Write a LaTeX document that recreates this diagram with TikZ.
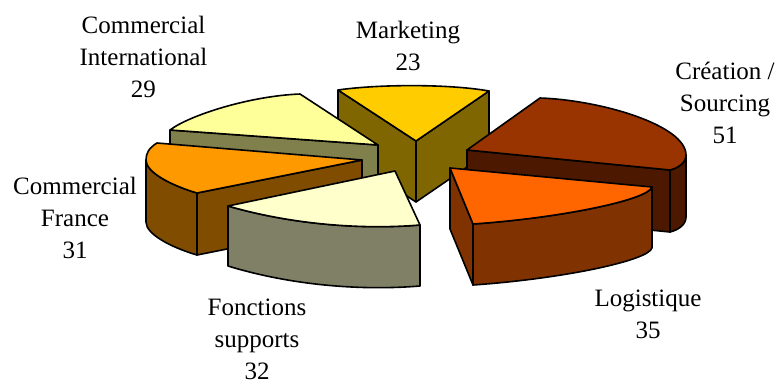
\documentclass[tikz,border=0pt]{standalone}
\usepackage{fontspec}
\setmainfont{Liberation Serif}
\usepackage{tikz}
\definecolor{mkt}{HTML}{FFCC00}
\definecolor{mktside}{HTML}{806600}
\definecolor{crea}{HTML}{993300}
\definecolor{creaside}{HTML}{4C1900}
\definecolor{logi}{HTML}{FF6600}
\definecolor{logiside}{HTML}{803300}
\definecolor{fonc}{HTML}{FFFFCC}
\definecolor{foncside}{HTML}{808066}
\definecolor{fra}{HTML}{FF9900}
\definecolor{fraside}{HTML}{804C00}
\definecolor{intl}{HTML}{FFFF99}
\definecolor{intlside}{HTML}{80804C}

\begin{document}
\begin{tikzpicture}[x=1pt, y=-1pt,
				   face/.style={draw=black, line width=1.6pt, line join=round},
				   lbl/.style={anchor=base, align=center, inner sep=0pt, font=\fontsize{25}{32}\selectfont}]
\useasboundingbox (0,0) rectangle (777,380);
\filldraw[face, fill=mktside] (338,90) -- (416,141) -- (416,202) -- (338,151) -- cycle;
\filldraw[face, fill=mktside] (416,141) -- (489,91) -- (489,152) -- (416,202) -- cycle;
\filldraw[face, fill=mkt] (338,90) .. controls (380,84) and (450,84) .. (489,91) -- (416,141) -- cycle;

\filldraw[face, fill=creaside] (467,150) -- (670,170) -- (670,232) -- (467,212) -- cycle;
\filldraw[face, fill=creaside] (686,155) .. controls (686,163) and (678,168) .. (670,170)
	-- (670,232) .. controls (678,230) and (686,225) .. (686,217) -- cycle;
\filldraw[face, fill=crea] (467,150) -- (540,98) .. controls (600,100) and (686,125) .. (686,155)
	.. controls (686,163) and (678,168) .. (670,170) -- cycle;

\filldraw[face, fill=intlside] (170,130) -- (378,145) -- (378,206) -- (170,191) -- cycle;
\filldraw[face, fill=intl] (170,130) .. controls (190,115) and (250,96) .. (300,94) -- (378,145) -- cycle;

\filldraw[face, fill=fraside] (197,193) -- (362,160) -- (362,222) -- (197,255) -- cycle;
\filldraw[face, fill=fraside] (146,160) .. controls (146,172) and (170,185) .. (197,193)
	-- (197,255) .. controls (170,247) and (146,234) .. (146,222) -- cycle;
\filldraw[face, fill=fra] (362,160) -- (157,143) .. controls (149,148) and (146,153) .. (146,160)
	.. controls (146,172) and (170,185) .. (197,193) -- cycle;

\filldraw[face, fill=foncside] (228,206) .. controls (290,224) and (360,230) .. (420,225)
	-- (420,286) .. controls (360,291) and (290,285) .. (228,266) -- cycle;
\filldraw[face, fill=fonc] (395,171) -- (228,206) .. controls (290,224) and (360,230) .. (420,225) -- cycle;

\filldraw[face, fill=logiside] (450,168) -- (473,224) -- (473,285) -- (450,229) -- cycle;
\filldraw[face, fill=logiside] (473,224) .. controls (560,218) and (648,200) .. (652,187)
	-- (652,248) .. controls (648,261) and (560,279) .. (473,285) -- cycle;
\filldraw[face, fill=logi] (450,168) -- (652,187) .. controls (648,200) and (560,218) .. (473,224) -- cycle;

\node[lbl] (intlname) at (143.5,97) {Commercial\\International\\29};
\node[lbl] (mktname) at (408,70) {Marketing\\23};
\node[lbl] (creaname) at (725,143) {Création /\\Sourcing\\51};
\node[lbl] (loginame) at (648,338) {Logistique\\35};
\node[lbl] (franame) at (75,258) {Commercial\\France\\31};
\node[lbl] (foncname) at (257,379) {Fonctions\\supports\\32};
\end{tikzpicture}
\end{document}
